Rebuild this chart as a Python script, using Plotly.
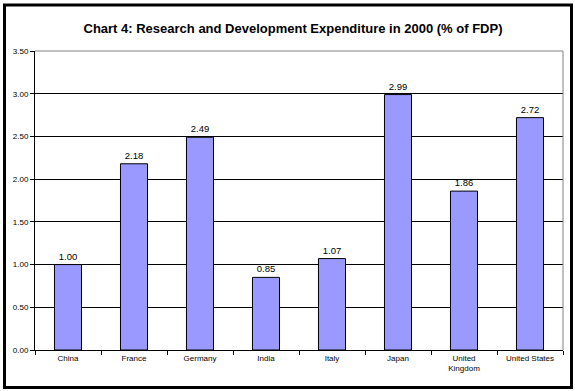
import plotly.graph_objects as go

countries = ["China", "France", "Germany", "India", "Italy", "Japan", "United<br>Kingdom", "United States"]
values = [1.00, 2.18, 2.49, 0.85, 1.07, 2.99, 1.86, 2.72]
y_ticks = [0.0, 0.5, 1.0, 1.5, 2.0, 2.5, 3.0, 3.5]
title = "Chart 4: Research and Development Expenditure in 2000 (% of FDP)"

W, H = 575, 391
L, R, T, B = 35, 12, 51, 41
pw, ph = W - L - R, H - T - B

fig = go.Figure(go.Bar(
    x=countries, y=values,
    marker=dict(color="#9999FF", line=dict(color="#000000", width=1)),
    text=[f"{v:.2f}" for v in values], textposition="outside",
    textfont=dict(family="Arial, Liberation Sans", size=9.5, color="#000"),
    cliponaxis=False,
))

def px_x(x):
    return (x - L) / pw

def px_y(y):
    return (H - B - y) / ph

fig.update_layout(
    width=W, height=H,
    margin=dict(l=L, r=R, t=T, b=B),
    paper_bgcolor="white", plot_bgcolor="white",
    bargap=0.59,
    showlegend=False,
    title=dict(text="<b>" + title + "</b>", x=293 / W, xanchor="center", y=1 - 28.5 / H, yanchor="middle",
               font=dict(family="Arial, Liberation Sans", size=13, color="#000")),
    xaxis=dict(
        type="category", tickson="boundaries", ticks="outside", ticklen=4, tickcolor="#000",
        showline=True, linecolor="#000", linewidth=1, showgrid=False,
        tickfont=dict(family="Arial, Liberation Sans", size=8, color="#000"),
    ),
    yaxis=dict(
        range=[0, 3.5], tickvals=y_ticks, tickformat=".2f", ticks="outside", ticklen=4, tickcolor="#000",
        showline=True, linecolor="#000", linewidth=1, showgrid=True, gridcolor="#000", gridwidth=1,
        zeroline=False,
        tickfont=dict(family="Arial, Liberation Sans", size=8, color="#000"),
    ),
    shapes=[
        dict(type="line", xref="paper", yref="paper", x0=0, x1=1, y0=1, y1=1,
             line=dict(color="#808080", width=1), layer="above"),
        dict(type="line", xref="paper", yref="paper", x0=1, x1=1, y0=0, y1=1,
             line=dict(color="#808080", width=1), layer="above"),
        dict(type="rect", xref="paper", yref="paper",
             x0=px_x(4.5), x1=px_x(571.5), y0=px_y(387.5), y1=px_y(5),
             line=dict(color="#000", width=3), layer="above"),
    ],
)

fig.write_html(
    "out.html",
    config={"displayModeBar": False},
    post_script="document.body.style.margin='0';document.body.style.overflow='hidden';",
)
